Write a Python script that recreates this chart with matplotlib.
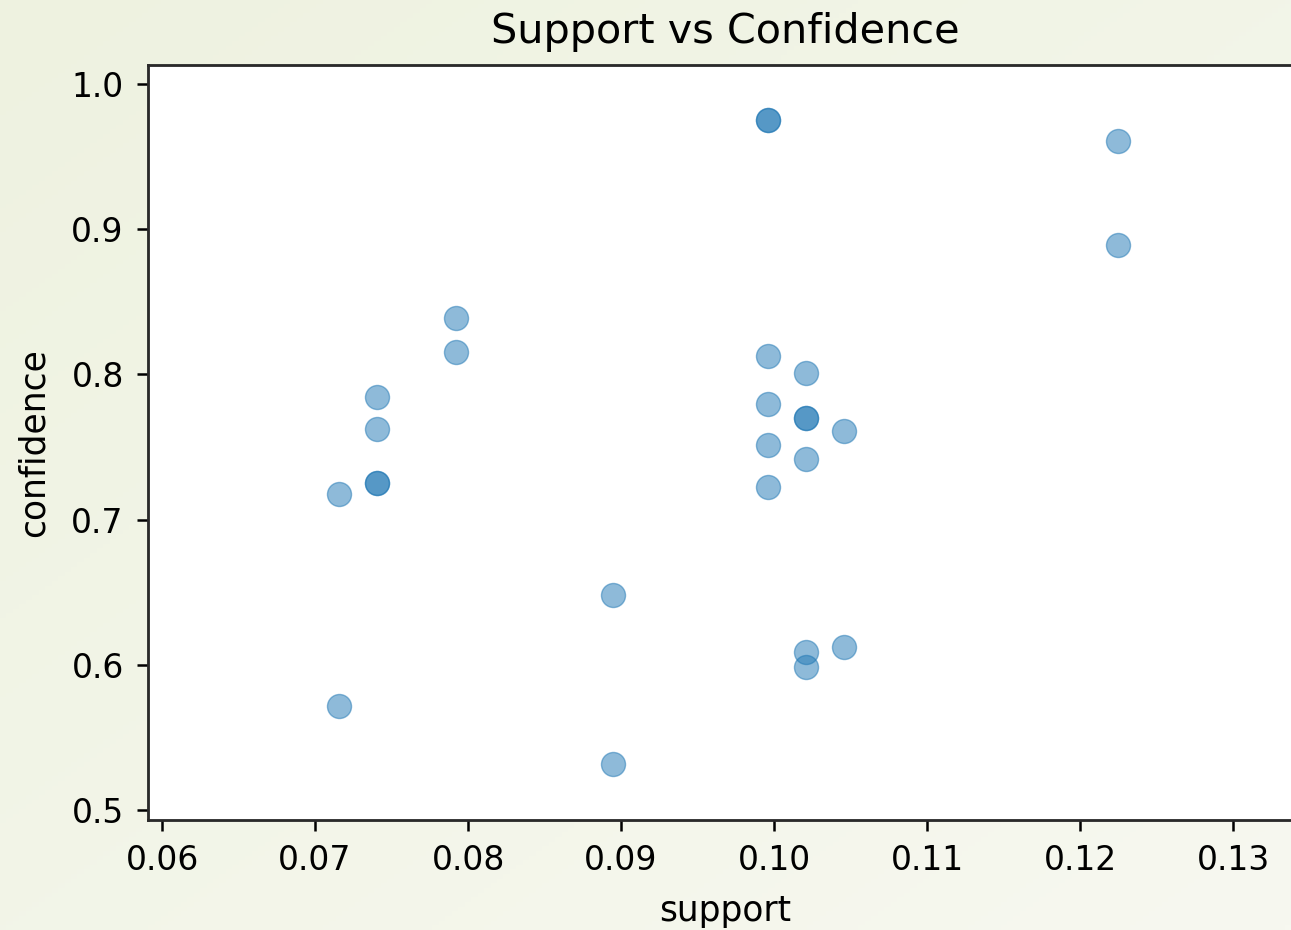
import matplotlib
matplotlib.use("Agg")
import matplotlib.pyplot as plt
import numpy as np

# rule metrics
support = [0.07157, 0.07157, 0.07405, 0.07405, 0.07405, 0.07405,
           0.07922, 0.07922, 0.08948, 0.08948,
           0.09961, 0.09961, 0.09961, 0.09961, 0.09961, 0.09961,
           0.10209, 0.10209, 0.10209, 0.10209, 0.10209, 0.10209,
           0.10458, 0.10458, 0.12248, 0.12248]
confidence = [0.7176, 0.5716, 0.7844, 0.7624, 0.7252, 0.7252,
              0.8388, 0.8154, 0.6481, 0.5317,
              0.9752, 0.9752, 0.8127, 0.7796, 0.7514, 0.7224,
              0.8010, 0.7700, 0.7700, 0.7417, 0.6088, 0.5985,
              0.7610, 0.6123, 0.9607, 0.8891]

S = 2.26  # scale against matplotlib defaults

plt.rcParams['font.family'] = ['DejaVu Sans']
plt.rcParams['xtick.labelsize'] = 10.5 * S
plt.rcParams['ytick.labelsize'] = 10.5 * S
plt.rcParams['xtick.major.size'] = 3.5 * S
plt.rcParams['ytick.major.size'] = 3.5 * S
plt.rcParams['xtick.major.width'] = 0.8 * S
plt.rcParams['ytick.major.width'] = 0.8 * S
plt.rcParams['xtick.major.pad'] = 4.2 * S
plt.rcParams['ytick.major.pad'] = 4.2 * S
plt.rcParams['axes.linewidth'] = 0.9 * S

fig = plt.figure(figsize=(12.91, 9.30), dpi=100)

# slide-like pale green gradient behind everything
bg = fig.add_axes([0, 0, 1, 1], zorder=-1)
yy, xx = np.mgrid[0:1:200j, 0:1:200j]
t = np.clip(0.5 * (xx + (1 - yy)), 0, 1)
c0 = np.array([238, 242, 224]) / 255
c1 = np.array([247, 248, 240]) / 255
img = c0 + (c1 - c0) * t[..., None]
bg.imshow(img, extent=[0, 1, 0, 1], aspect='auto', origin='lower')
bg.axis('off')

ax = fig.add_axes([148 / 1291, 110 / 930, 1154 / 1291, 755 / 930])
ax.scatter(support, confidence, s=300, alpha=0.5, color='tab:blue')
ax.set_xlim(0.05908, 0.1345)
ax.set_ylim(0.4931, 1.013)
ax.set_xticks([0.06, 0.07, 0.08, 0.09, 0.10, 0.11, 0.12, 0.13])
ax.set_xticklabels(['0.06', '0.07', '0.08', '0.09', '0.10', '0.11', '0.12', '0.13'])
ax.set_yticks([0.5, 0.6, 0.7, 0.8, 0.9, 1.0])
ax.set_xlabel('support', fontsize=11 * S, labelpad=12)
ax.set_ylabel('confidence', fontsize=11 * S, labelpad=15)
ax.set_title('Support vs Confidence', fontsize=13.2 * S, pad=7 * S)
for sp in ax.spines.values():
    sp.set_color('#2a2a2a')

fig.savefig('out.png', dpi=100)
